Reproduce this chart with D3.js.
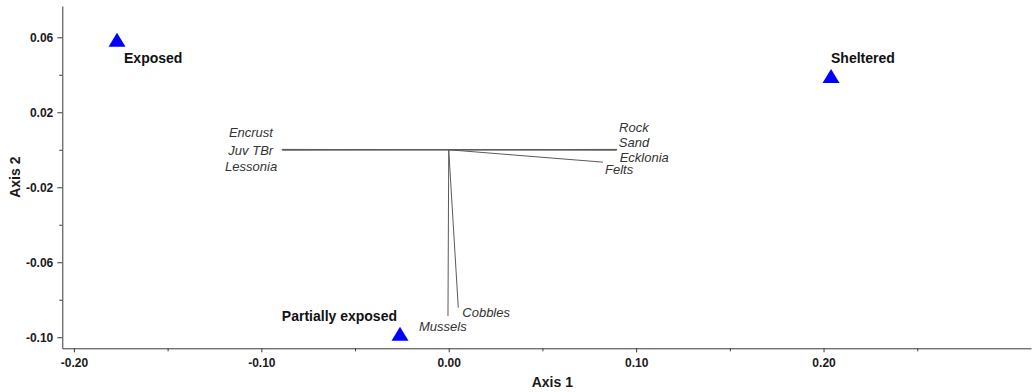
<!DOCTYPE html>
<html>
<head>
<meta charset="utf-8">
<script src="https://cdn.jsdelivr.net/npm/d3@7"></script>
<style>
  body { margin: 0; background: #fff; }
  svg { display: block; font-family: "Liberation Sans", Arial, sans-serif; }
</style>
</head>
<body>
<svg width="1034" height="392"></svg>
<script>
// site scores
var sites = ['Exposed', 'Partially exposed', 'Sheltered'];
var siteAxis1 = [-0.177, -0.026, 0.204];
var siteAxis2 = [0.0587, -0.0981, 0.0393];

// environmental vectors
var vars = ['Encrust', 'Juv TBr', 'Lessonia', 'Rock', 'Sand', 'Ecklonia', 'Felts', 'Mussels', 'Cobbles'];
var varAxis1 = [-0.0890, -0.0891, -0.0889, 0.0898, 0.0897, 0.0896, 0.0823, -0.0004, 0.0051];
var varAxis2 = [0.0002, 0.0, -0.0002, 0.0002, 0.0, -0.0002, -0.0066, -0.0886, -0.0843];

var xTicks = [-0.20, -0.10, 0.00, 0.10, 0.20];
var xTickLabels = ['-0.20', '-0.10', '0.00', '0.10', '0.20'];
var xMinor = [-0.15, -0.05, 0.05, 0.15, 0.25];
var yTicks = [0.06, 0.02, -0.02, -0.06, -0.10];
var yTickLabels = ['0.06', '0.02', '-0.02', '-0.06', '-0.10'];
var yMinor = [0.04, 0.00, -0.04, -0.08];

// label offsets (px) from the end of each mark
var varLabelPos = {
    'Encrust': [-31, -12, 'middle'],
    'Juv TBr': [-31, 5.5, 'middle'],
    'Lessonia': [-31, 20.5, 'middle'],
    'Rock': [2, -17.5, 'start'],
    'Sand': [2, -2.5, 'start'],
    'Ecklonia': [3, 11.5, 'start'],
    'Felts': [2, 12, 'start'],
    'Mussels': [-29, 15.5, 'start'],
    'Cobbles': [4, 9, 'start']
};
var siteLabelPos = {
    'Exposed': [7, 23, 'start'],
    'Partially exposed': [-3, -13, 'end'],
    'Sheltered': [0, -13, 'start']
};

var svg = d3.select('svg');
var margin = {top: 6, left: 62.3, right: 3, bottom: 43.7};
var width = +svg.attr('width') - margin.left - margin.right;
var height = +svg.attr('height') - margin.top - margin.bottom;

var x = d3.scaleLinear().domain([-0.2062, 0.3107]).range([0, width]);
var y = d3.scaleLinear().domain([-0.1059, 0.0767]).range([height, 0]);

var g = svg.append('g').attr('transform', `translate(${margin.left},${margin.top})`);

// axes
var xAxis = g.append('g')
    .attr('transform', `translate(0,${height})`)
    .call(d3.axisBottom(x).tickValues(xTicks)
        .tickFormat((d, i) => xTickLabels[i])
        .tickSizeInner(4).tickSizeOuter(0).tickPadding(6));
g.append('g')
    .attr('transform', `translate(0,${height})`)
    .call(d3.axisBottom(x).tickValues(xMinor).tickFormat('').tickSizeInner(3).tickSizeOuter(0))
    .select('.domain').remove();

var yAxis = g.append('g')
    .call(d3.axisLeft(y).tickValues(yTicks)
        .tickFormat((d, i) => yTickLabels[i])
        .tickSizeInner(5).tickSizeOuter(0).tickPadding(4));
g.append('g')
    .call(d3.axisLeft(y).tickValues(yMinor).tickFormat('').tickSizeInner(3).tickSizeOuter(0))
    .select('.domain').remove();

svg.selectAll('.domain, .tick line').attr('stroke', '#3a3a3a');
svg.selectAll('.tick text')
    .attr('fill', '#1a1a1a')
    .style('font-size', '12px')
    .style('font-weight', 'bold');
yAxis.selectAll('.tick text').attr('dy', '0.36em');

g.append('text')
    .attr('x', 490)
    .attr('y', height + 39)
    .attr('text-anchor', 'middle')
    .style('font-size', '14px')
    .style('font-weight', 'bold')
    .attr('fill', '#1a1a1a')
    .text('Axis 1');

g.append('text')
    .attr('transform', `translate(${-42},${height / 2}) rotate(-90)`)
    .attr('text-anchor', 'middle')
    .style('font-size', '14px')
    .style('font-weight', 'bold')
    .attr('fill', '#1a1a1a')
    .text('Axis 2');

// vectors
var vecData = vars.map((v, i) => ({name: v, a1: varAxis1[i], a2: varAxis2[i]}));
g.selectAll('line.vec')
    .data(vecData)
    .enter()
    .append('line')
    .attr('class', 'vec')
    .attr('x1', x(0))
    .attr('y1', y(0))
    .attr('x2', d => x(d.a1))
    .attr('y2', d => y(d.a2))
    .attr('stroke', '#5a5a5a')
    .attr('stroke-width', 1);

g.selectAll('text.vec')
    .data(vecData)
    .enter()
    .append('text')
    .attr('class', 'vec')
    .attr('x', d => x(d.a1) + varLabelPos[d.name][0])
    .attr('y', d => y(d.a2) + varLabelPos[d.name][1])
    .attr('text-anchor', d => varLabelPos[d.name][2])
    .style('font-size', '13px')
    .style('font-style', 'italic')
    .attr('fill', '#333')
    .text(d => d.name);

// sites
var siteData = sites.map((s, i) => ({name: s, a1: siteAxis1[i], a2: siteAxis2[i]}));
var tri = (cx, cy) => `M${cx},${cy - 7}L${cx + 8.5},${cy + 7}L${cx - 8.5},${cy + 7}Z`;

g.selectAll('path.site')
    .data(siteData)
    .enter()
    .append('path')
    .attr('class', 'site')
    .attr('d', d => tri(x(d.a1), y(d.a2)))
    .attr('fill', '#0000ff');

g.selectAll('text.site')
    .data(siteData)
    .enter()
    .append('text')
    .attr('class', 'site')
    .attr('x', d => x(d.a1) + siteLabelPos[d.name][0])
    .attr('y', d => y(d.a2) + siteLabelPos[d.name][1])
    .attr('text-anchor', d => siteLabelPos[d.name][2])
    .style('font-size', '14px')
    .style('font-weight', 'bold')
    .attr('fill', '#111')
    .text(d => d.name);
</script>
</body>
</html>
